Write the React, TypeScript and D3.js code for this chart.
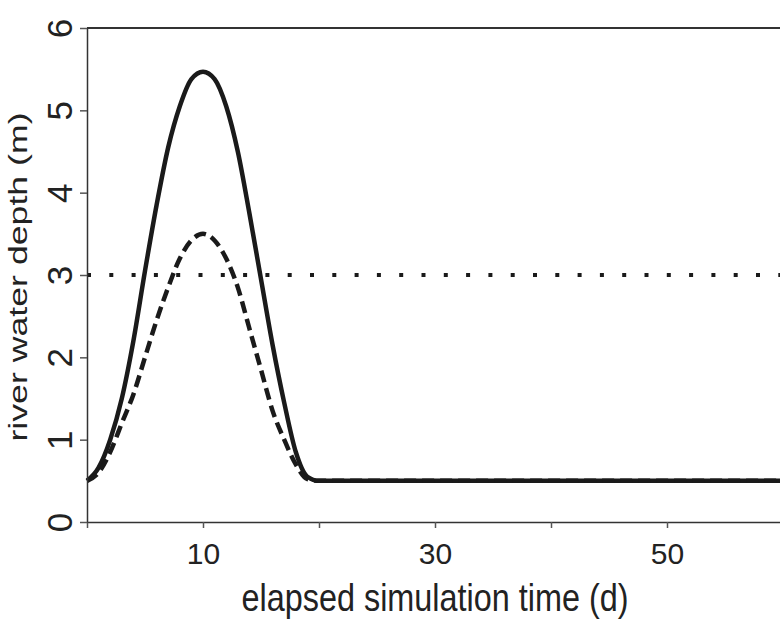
import React, { useEffect, useRef } from 'react';
import * as d3 from 'd3';

// elapsed time (d) and river depth (m)
const days = [0, 1, 2, 3, 4, 5, 6, 7, 8, 9, 10, 11, 12, 13, 14, 15, 16, 17, 18, 19, 20, 60];
const depthSolid = [0.5, 0.66, 1.0, 1.5, 2.2, 3.05, 3.85, 4.55, 5.05, 5.38, 5.47, 5.38, 5.05, 4.5, 3.75, 2.95, 2.15, 1.45, 0.85, 0.55, 0.5, 0.5];
const depthDashed = [0.5, 0.6, 0.85, 1.2, 1.55, 2.0, 2.45, 2.85, 3.2, 3.42, 3.5, 3.42, 3.2, 2.85, 2.35, 1.85, 1.35, 1.0, 0.7, 0.52, 0.5, 0.5];
const thresholdDepth = 3;
const xTicks = [0, 10, 20, 30, 40, 50, 60];
const xTickLabels = ['', '10', '', '30', '', '50', ''];
const yTicks = [0, 1, 2, 3, 4, 5, 6];

const FONT = '"Liberation Sans", Arial, Helvetica, sans-serif';
const INK = '#1a1a1a';

const App = () => {
  const svgRef = useRef<SVGSVGElement>(null);

  useEffect(() => {
    const width = 780;
    const height = 621;
    const margin = { top: 28, right: -3, bottom: 99, left: 87 };
    const innerW = width - margin.left - margin.right;
    const innerH = height - margin.top - margin.bottom;

    svgRef.current!.innerHTML = '';

    const svg = d3.select(svgRef.current)
      .attr('width', width)
      .attr('height', height);

    const g = svg.append('g')
      .attr('transform', `translate(${margin.left},${margin.top})`);

    const x = d3.scaleLinear().domain([0, 60]).range([0, innerW]);
    const y = d3.scaleLinear().domain([0, 6]).range([innerH, 0]);

    // top frame line
    g.append('line')
      .attr('x1', 0).attr('x2', innerW)
      .attr('y1', 0).attr('y2', 0)
      .attr('stroke', '#333').attr('stroke-width', 2);

    // threshold (dotted)
    g.append('line')
      .attr('x1', x(0)).attr('x2', x(60))
      .attr('y1', y(thresholdDepth)).attr('y2', y(thresholdDepth))
      .attr('stroke', INK).attr('stroke-width', 4)
      .attr('stroke-dasharray', '4,18.3');

    const pts = (vals: number[]) => days.map((d, i) => [d, vals[i]] as [number, number]);
    const line = d3.line<[number, number]>()
      .x(d => x(d[0]))
      .y(d => y(d[1]))
      .curve(d3.curveMonotoneX);

    g.append('path')
      .datum(pts(depthSolid))
      .attr('d', line)
      .attr('fill', 'none')
      .attr('stroke', INK)
      .attr('stroke-width', 4.5);

    g.append('path')
      .datum(pts(depthDashed))
      .attr('d', line)
      .attr('fill', 'none')
      .attr('stroke', INK)
      .attr('stroke-width', 4.5)
      .attr('stroke-dasharray', '12,6');

    // x axis
    const xAxis = g.append('g')
      .attr('transform', `translate(0,${innerH})`)
      .call(d3.axisBottom(x)
        .tickValues(xTicks)
        .tickSize(6)
        .tickSizeOuter(0)
        .tickFormat((_, i) => xTickLabels[i]));
    xAxis.select('.domain').attr('stroke', '#333').attr('stroke-width', 1.5);
    xAxis.selectAll('line').attr('stroke', '#555').attr('stroke-width', 1.5);
    xAxis.selectAll('text')
      .attr('y', 42).attr('dy', null)
      .attr('font-size', 30).attr('font-family', FONT).attr('fill', '#222');

    // y axis, labels rotated
    const yAxis = g.append('g')
      .call(d3.axisLeft(y)
        .tickValues(yTicks)
        .tickSize(7)
        .tickSizeOuter(0)
        .tickFormat(d3.format('d')));
    yAxis.select('.domain').attr('stroke', '#333').attr('stroke-width', 1.5);
    yAxis.selectAll('line').attr('stroke', '#555').attr('stroke-width', 1.5);
    yAxis.selectAll('text')
      .attr('x', null).attr('dy', null)
      .attr('transform', 'translate(-15,0) rotate(-90)')
      .attr('text-anchor', 'middle')
      .attr('font-size', 35).attr('font-family', FONT).attr('fill', '#222');

    // axis titles
    svg.append('text')
      .attr('transform', `translate(${margin.left + innerW / 2},611) scale(1,1.22)`)
      .attr('text-anchor', 'middle')
      .attr('font-size', 32.4).attr('font-family', FONT).attr('fill', '#222')
      .text('elapsed simulation time (d)');

    svg.append('text')
      .attr('transform', `translate(26.5,${margin.top + innerH / 2 + 2}) rotate(-90) scale(1,0.745)`)
      .attr('text-anchor', 'middle')
      .attr('font-size', 35.7).attr('font-family', FONT).attr('fill', '#222')
      .text('river water depth (m)');
  }, []);

  return (
    <svg ref={svgRef} style={{ position: 'absolute', left: 0, top: 0, background: '#fff' }}></svg>
  );
};

export default App;
